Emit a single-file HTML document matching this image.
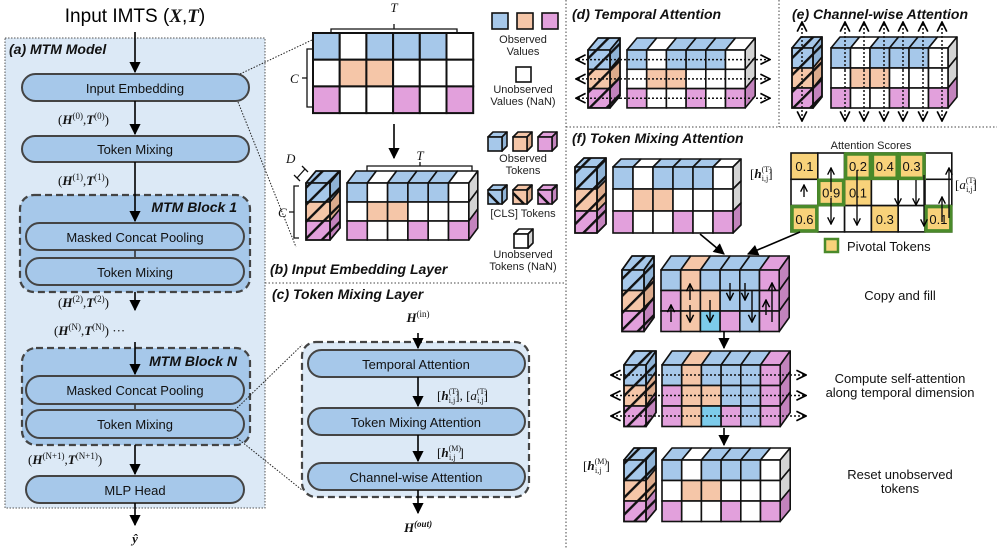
<!DOCTYPE html>
<html><head><meta charset="utf-8">
<style>
html,body{margin:0;padding:0;background:#fff;}
svg{display:block;font-family:"Liberation Sans","DejaVu Sans",sans-serif;}
.t{font-size:13px;fill:#111;}
.ti{font-size:14px;font-style:italic;font-weight:bold;fill:#111;}
.m{font-family:"Liberation Serif","DejaVu Serif",serif;font-size:13px;fill:#111;}
.mb{font-family:"Liberation Serif","DejaVu Serif",serif;font-size:13px;font-weight:bold;font-style:italic;fill:#111;}
.sm{font-size:11px;fill:#222;}
</style></head><body>
<svg id="s" width="997" height="548" viewBox="0 0 997 548" xmlns="http://www.w3.org/2000/svg">
<defs>
<marker id="ar" viewBox="0 0 10 10" refX="9" refY="5" markerWidth="7" markerHeight="7" orient="auto"><path d="M0,0 L10,5 L0,10 z" fill="#000"/></marker>
<marker id="ao" viewBox="0 0 10 10" refX="9" refY="5" markerWidth="6" markerHeight="6" orient="auto"><path d="M1,1 L9,5 L1,9" fill="none" stroke="#000" stroke-width="1.6"/></marker>
<marker id="ao2" viewBox="0 0 10 10" refX="9" refY="5" markerWidth="8" markerHeight="8" orient="auto"><path d="M1,1 L9,5 L1,9" fill="none" stroke="#000" stroke-width="1.4"/></marker>
<pattern id="hatch" width="12" height="12" patternUnits="userSpaceOnUse" patternTransform="rotate(45)"><rect width="2.4" height="12" fill="#111"/></pattern>
</defs>

<line x1="265" y1="283" x2="565" y2="283" stroke="#444" stroke-dasharray="1.5,2"/>
<line x1="566" y1="0" x2="566" y2="548" stroke="#444" stroke-dasharray="1.5,2"/>
<line x1="566" y1="127" x2="997" y2="127" stroke="#444" stroke-dasharray="1.5,2"/>
<line x1="779" y1="0" x2="779" y2="127" stroke="#444" stroke-dasharray="1.5,2"/>

<text x="135" y="22" text-anchor="middle" style="font-size:19px">Input IMTS (<tspan class="mb" style="font-size:19px">X</tspan>,<tspan class="mb" style="font-size:19px">T</tspan>)</text>
<rect x="5" y="38" width="260" height="470" fill="#dce9f6" stroke="#555" stroke-dasharray="1.5,1.5"/>
<text x="9" y="54" class="ti">(a) MTM Model</text>
<line x1="135" y1="32" x2="135" y2="72" stroke="#000" stroke-width="1.6" marker-end="url(#ar)"/>
<rect x="22" y="74" width="227" height="27" rx="13.5" fill="#a6c8ea" stroke="#444" stroke-width="2"/>
<text x="135" y="93" class="t" text-anchor="middle">Input Embedding</text>
<line x1="135" y1="101" x2="135" y2="134" stroke="#000" stroke-width="1.6" marker-end="url(#ar)"/>
<text x="58" y="124" class="m">(<tspan class="mb">H</tspan><tspan font-size="9" dy="-5">(0)</tspan><tspan dy="5">,</tspan><tspan class="mb">T</tspan><tspan font-size="9" dy="-5">(0)</tspan><tspan dy="5">)</tspan></text>
<rect x="22" y="136" width="227" height="26" rx="13" fill="#a6c8ea" stroke="#444" stroke-width="2"/>
<text x="135" y="154" class="t" text-anchor="middle">Token Mixing</text>
<text x="58" y="185" class="m">(<tspan class="mb">H</tspan><tspan font-size="9" dy="-5">(1)</tspan><tspan dy="5">,</tspan><tspan class="mb">T</tspan><tspan font-size="9" dy="-5">(1)</tspan><tspan dy="5">)</tspan></text>
<rect x="20" y="195" width="230" height="97" rx="14" fill="#a6c8ea" stroke="#444" stroke-width="2.2" stroke-dasharray="7,4"/>
<text x="237" y="212" class="ti" text-anchor="end">MTM Block 1</text>
<line x1="135" y1="162" x2="135" y2="221" stroke="#000" stroke-width="1.6" marker-end="url(#ar)"/>
<rect x="26" y="223" width="218" height="27" rx="13.5" fill="#a6c8ea" stroke="#444" stroke-width="2"/>
<text x="135" y="242" class="t" text-anchor="middle">Masked Concat Pooling</text>
<line x1="135" y1="250" x2="135" y2="258" stroke="#333" stroke-width="1.6"/>
<rect x="26" y="258" width="218" height="27" rx="13.5" fill="#a6c8ea" stroke="#444" stroke-width="2"/>
<text x="135" y="277" class="t" text-anchor="middle">Token Mixing</text>
<line x1="135" y1="292" x2="135" y2="310" stroke="#000" stroke-width="1.6" marker-end="url(#ar)"/>
<text x="58" y="307" class="m">(<tspan class="mb">H</tspan><tspan font-size="9" dy="-5">(2)</tspan><tspan dy="5">,</tspan><tspan class="mb">T</tspan><tspan font-size="9" dy="-5">(2)</tspan><tspan dy="5">)</tspan></text>
<text x="54" y="335" class="m">(<tspan class="mb">H</tspan><tspan font-size="9" dy="-5">(N)</tspan><tspan dy="5">,</tspan><tspan class="mb">T</tspan><tspan font-size="9" dy="-5">(N)</tspan><tspan dy="5">)  ···</tspan></text>
<rect x="22" y="348" width="228" height="97" rx="14" fill="#a6c8ea" stroke="#444" stroke-width="2.2" stroke-dasharray="7,4"/>
<text x="237" y="366" class="ti" text-anchor="end">MTM Block N</text>
<line x1="135" y1="342" x2="135" y2="374" stroke="#000" stroke-width="1.6" marker-end="url(#ar)"/>
<rect x="26" y="376" width="218" height="28" rx="14" fill="#a6c8ea" stroke="#444" stroke-width="2"/>
<text x="135" y="395" class="t" text-anchor="middle">Masked Concat Pooling</text>
<line x1="135" y1="404" x2="135" y2="410" stroke="#333" stroke-width="1.6"/>
<rect x="26" y="410" width="218" height="28" rx="14" fill="#a6c8ea" stroke="#444" stroke-width="2"/>
<text x="135" y="429" class="t" text-anchor="middle">Token Mixing</text>
<line x1="135" y1="445" x2="135" y2="474" stroke="#000" stroke-width="1.6" marker-end="url(#ar)"/>
<text x="28" y="464" class="m">(<tspan class="mb">H</tspan><tspan font-size="9" dy="-5">(N+1)</tspan><tspan dy="5">,</tspan><tspan class="mb">T</tspan><tspan font-size="9" dy="-5">(N+1)</tspan><tspan dy="5">)</tspan></text>
<rect x="26" y="476" width="218" height="27" rx="13.5" fill="#a6c8ea" stroke="#444" stroke-width="2"/>
<text x="135" y="495" class="t" text-anchor="middle">MLP Head</text>
<line x1="135" y1="503" x2="135" y2="525" stroke="#000" stroke-width="1.6" marker-end="url(#ar)"/>
<text x="135" y="543" class="mb" text-anchor="middle">ŷ</text>

<line x1="240" y1="74" x2="312" y2="40" stroke="#222" stroke-dasharray="1.5,1.5"/>
<line x1="238" y1="102" x2="296" y2="247" stroke="#222" stroke-dasharray="1.5,1.5"/>
<line x1="235" y1="410" x2="302" y2="345" stroke="#222" stroke-dasharray="1.5,1.5"/>
<line x1="237" y1="438" x2="302" y2="490" stroke="#222" stroke-dasharray="1.5,1.5"/>

<text x="394" y="12" class="m" font-style="italic" text-anchor="middle">T</text>
<path d="M331,34 V29 H457 V34 M394,29 V24" fill="none" stroke="#111" stroke-width="1.3"/>
<path d="M312,49 H307 V107 H312 M307,78 H302" fill="none" stroke="#111" stroke-width="1.3"/>
<text x="290" y="83" class="m" font-style="italic">C</text>
<g id="g2d"></g>
<line x1="394" y1="124" x2="394" y2="158" stroke="#000" stroke-width="1.6" marker-end="url(#ar)"/>
<text x="420" y="160" class="m" font-style="italic" text-anchor="middle">T</text>
<path d="M367,172 V166 H472 V172 M420,166 V162" fill="none" stroke="#111" stroke-width="1.3"/>
<path d="M299,186 H294 V238 H299 M294,212 H289" fill="none" stroke="#111" stroke-width="1.3"/>
<text x="278" y="217" class="m" font-style="italic">C</text>
<path d="M297,178 L305,169 M294,175 L300,181 M302,166 L308,172" fill="none" stroke="#111" stroke-width="1.3"/>
<text x="286" y="163" class="m" font-style="italic">D</text>
<text x="523" y="43" class="sm" text-anchor="middle">Observed</text>
<text x="523" y="55" class="sm" text-anchor="middle">Values</text>
<rect x="516" y="67" width="15" height="15" fill="#fff" stroke="#111" stroke-width="1.6"/>
<text x="523" y="93" class="sm" text-anchor="middle">Unobserved</text>
<text x="523" y="105" class="sm" text-anchor="middle">Values (NaN)</text>
<text x="523" y="162" class="sm" text-anchor="middle">Observed</text>
<text x="523" y="174" class="sm" text-anchor="middle">Tokens</text>
<text x="523" y="217" class="sm" text-anchor="middle">[CLS] Tokens</text>
<text x="523" y="258" class="sm" text-anchor="middle">Unobserved</text>
<text x="523" y="270" class="sm" text-anchor="middle">Tokens (NaN)</text>
<text x="270" y="274" class="ti">(b) Input Embedding Layer</text>

<text x="272" y="299" class="ti">(c) Token Mixing Layer</text>
<text x="418" y="322" class="mb" text-anchor="middle">H<tspan font-size="9" font-weight="normal" font-style="normal" dy="-5">(in)</tspan></text>
<rect x="302" y="342" width="227" height="155" rx="14" fill="#dce9f6" stroke="#444" stroke-width="2.2" stroke-dasharray="7,4"/>
<line x1="418" y1="333" x2="418" y2="348" stroke="#000" stroke-width="1.6" marker-end="url(#ar)"/>
<rect x="308" y="350" width="217" height="27" rx="13.5" fill="#a6c8ea" stroke="#444" stroke-width="2"/>
<text x="416" y="369" class="t" text-anchor="middle">Temporal Attention</text>
<line x1="418" y1="377" x2="418" y2="406" stroke="#000" stroke-width="1.6" marker-end="url(#ar)"/>
<text x="437" y="400" class="m">[<tspan class="mb">h</tspan><tspan font-size="8" dy="-6">(T)</tspan><tspan font-size="8" dx="-10" dy="9">i,j</tspan><tspan dy="-3">], [</tspan><tspan font-style="italic">a</tspan><tspan font-size="8" dy="-6">(T)</tspan><tspan font-size="8" dx="-10" dy="9">i,j</tspan><tspan dy="-3">]</tspan></text>
<rect x="308" y="408" width="217" height="27" rx="13.5" fill="#a6c8ea" stroke="#444" stroke-width="2"/>
<text x="416" y="427" class="t" text-anchor="middle">Token Mixing Attention</text>
<line x1="418" y1="435" x2="418" y2="461" stroke="#000" stroke-width="1.6" marker-end="url(#ar)"/>
<text x="437" y="457" class="m">[<tspan class="mb">h</tspan><tspan font-size="8" dy="-6">(M)</tspan><tspan font-size="8" dx="-12" dy="9">i,j</tspan><tspan dy="-3" dx="4">]</tspan></text>
<rect x="308" y="463" width="217" height="27" rx="13.5" fill="#a6c8ea" stroke="#444" stroke-width="2"/>
<text x="416" y="482" class="t" text-anchor="middle">Channel-wise Attention</text>
<line x1="418" y1="490" x2="418" y2="513" stroke="#000" stroke-width="1.6" marker-end="url(#ar)"/>
<text x="418" y="532" class="mb" text-anchor="middle">H<tspan font-size="9" dy="-5">(out)</tspan></text>

<text x="572" y="19" class="ti">(d) Temporal Attention</text>
<text x="792" y="19" class="ti">(e) Channel-wise Attention</text>
<text x="572" y="143" class="ti">(f) Token Mixing Attention</text>

<g id="cubes"></g>

<text x="750" y="178" class="m">[<tspan class="mb">h</tspan><tspan font-size="8" dy="-6">(T)</tspan><tspan font-size="8" dx="-10" dy="9">i,j</tspan><tspan dy="-3">]</tspan></text>
<text x="955" y="189" class="m">[<tspan font-style="italic">a</tspan><tspan font-size="8" dy="-6">(T)</tspan><tspan font-size="8" dx="-10" dy="9">i,j</tspan><tspan dy="-3">]</tspan></text>
<text x="871" y="149" class="sm" text-anchor="middle">Attention Scores</text>
<g id="att"></g>
<rect x="825" y="239" width="13" height="13" fill="#f8d27a" stroke="#4a8a2a" stroke-width="2.5"/>
<text x="847" y="251" class="t">Pivotal Tokens</text>
<line x1="700" y1="234" x2="724" y2="254" stroke="#000" stroke-width="1.6" marker-end="url(#ar)"/>
<line x1="800" y1="232" x2="748" y2="254" stroke="#000" stroke-width="1.6" marker-end="url(#ar)"/>
<text x="900" y="300" class="t" text-anchor="middle">Copy and fill</text>
<line x1="724" y1="331" x2="724" y2="348" stroke="#000" stroke-width="1.6" marker-end="url(#ar)"/>
<text x="900" y="383" class="t" text-anchor="middle">Compute self-attention</text>
<text x="900" y="397" class="t" text-anchor="middle">along temporal dimension</text>
<line x1="724" y1="428" x2="724" y2="445" stroke="#000" stroke-width="1.6" marker-end="url(#ar)"/>
<text x="900" y="479" class="t" text-anchor="middle">Reset unobserved</text>
<text x="900" y="493" class="t" text-anchor="middle">tokens</text>
<text x="583" y="470" class="m">[<tspan class="mb">h</tspan><tspan font-size="8" dy="-6">(M)</tspan><tspan font-size="8" dx="-12" dy="9">i,j</tspan><tspan dy="-3" dx="4">]</tspan></text>
</svg>
<script>
var NS="http://www.w3.org/2000/svg";
var C={B:"#a6c8ea",O:"#f5c6a8",P:"#e2a0dc",W:"#ffffff",Y:"#7ccbea"};
function dk(c){var m={"#a6c8ea":"#8fb3d6","#f5c6a8":"#dcab8c","#e2a0dc":"#c383bd","#ffffff":"#d4d4d4","#7ccbea":"#62b0cf"};return m[c]||c;}
function el(p,t,a){var e=document.createElementNS(NS,t);for(var k in a)e.setAttribute(k,a[k]);p.appendChild(e);return e;}
var G=document.getElementById("cubes");
function poly(pts,fill,sw){return el(G,"polygon",{points:pts.map(function(p){return p.join(",")}).join(" "),fill:fill,stroke:"#111","stroke-width":sw||1.6,"stroke-linejoin":"round"});}
function grid(x,y,cw,ch,rows,dx,dy){
  var n=rows[0].length,m=rows.length;
  for(var j=0;j<n;j++){var c=C[rows[0][j]];
    poly([[x+j*cw,y],[x+j*cw+dx,y-dy],[x+(j+1)*cw+dx,y-dy],[x+(j+1)*cw,y]],c);}
  for(var i=0;i<m;i++){var c=C[rows[i][n-1]];
    poly([[x+n*cw,y+i*ch],[x+n*cw+dx,y+i*ch-dy],[x+n*cw+dx,y+(i+1)*ch-dy],[x+n*cw,y+(i+1)*ch]],dk(c));}
  for(var i=0;i<m;i++)for(var j=0;j<n;j++)
    el(G,"rect",{x:x+j*cw,y:y+i*ch,width:cw,height:ch,fill:C[rows[i][j]],stroke:"#111","stroke-width":1.6});
}
function cls(x,y,cw,ch,dx,dy){
  var cs=["B","O","P"];
  poly([[x,y],[x+dx,y-dy],[x+cw+dx,y-dy],[x+cw,y]],C.B);
  for(var i=0;i<3;i++){poly([[x+cw,y+i*ch],[x+cw+dx,y+i*ch-dy],[x+cw+dx,y+(i+1)*ch-dy],[x+cw,y+(i+1)*ch]],dk(C[cs[i]]));}
  for(var i=0;i<3;i++)el(G,"rect",{x:x,y:y+i*ch,width:cw,height:ch,fill:C[cs[i]],stroke:"#111","stroke-width":1.6});
  el(G,"polygon",{points:[[x,y],[x+dx,y-dy],[x+cw+dx,y-dy],[x+cw+dx,y+3*ch-dy],[x+cw,y+3*ch],[x,y+3*ch]].map(function(p){return p.join(",")}).join(" "),fill:"url(#hatch)",stroke:"#111","stroke-width":1.6});
  el(G,"line",{x1:x+cw,y1:y,x2:x+cw,y2:y+3*ch,stroke:"#111","stroke-width":1.6});
  el(G,"line",{x1:x+cw,y1:y,x2:x+cw+dx,y2:y-dy,stroke:"#111","stroke-width":1.6});
}
var base=["BWBBBW","WOOWWW","PWWPWP"];
var filled=["BOBBBP","POOBBP","POYPBP"];
(function(){var g=document.getElementById("g2d");var x=313,y=33,cw=26.7,ch=26.7;
 for(var i=0;i<3;i++)for(var j=0;j<6;j++)el(g,"rect",{x:x+j*cw,y:y+i*ch,width:cw,height:ch,fill:C[base[i][j]],stroke:"#111","stroke-width":2});
 var lc=["B","O","P"];for(var k=0;k<3;k++)el(g,"rect",{x:492+k*25,y:13,width:16,height:16,fill:C[lc[k]],stroke:"#111","stroke-width":1.6});
})();
grid(347,183,20.3,19,base,9,12); cls(306,183,24,19,10,12);
function cube(x,y,s,c,h){poly([[x,y],[x+5,y-5],[x+s+5,y-5],[x+s,y]],C[c]);poly([[x+s,y],[x+s+5,y-5],[x+s+5,y+s-5],[x+s,y+s]],dk(C[c]));
 el(G,"rect",{x:x,y:y,width:s,height:s,fill:C[c],stroke:"#111","stroke-width":1.6});
 if(h){el(G,"line",{x1:x,y1:y+3,x2:x+s-3,y2:y+s,stroke:"#111","stroke-width":2.5});el(G,"line",{x1:x+s,y1:y,x2:x+s+5,y2:y-5,stroke:"#111","stroke-width":2.5});}}
cube(488,137,14,"B");cube(513,137,14,"O");cube(538,137,14,"P");
cube(488,190,14,"B",1);cube(513,190,14,"O",1);cube(538,190,14,"P",1);
cube(514,234,14,"W");
grid(627,50,19.7,19.3,base,10,12); cls(588,50,22,19.3,10,12);
for(var i=0;i<3;i++){var yy=50+19.3*i+9.6;el(G,"line",{x1:620,y1:yy,x2:576,y2:yy,stroke:"#111","stroke-width":1.5,"stroke-dasharray":"2,2","marker-end":"url(#ao2)"});
 el(G,"line",{x1:620,y1:yy,x2:770,y2:yy,stroke:"#111","stroke-width":1.5,"stroke-dasharray":"2,2","marker-end":"url(#ao2)"});}
grid(831,48,19.5,20,base,9,11); cls(792,48,21,20,9,11);
var ex=[802,845,864,884,903,923,942];
for(var k=0;k<ex.length;k++){el(G,"line",{x1:ex[k],y1:70,x2:ex[k],y2:22,stroke:"#111","stroke-width":1.5,"stroke-dasharray":"2,2","marker-end":"url(#ao2)"});
 el(G,"line",{x1:ex[k],y1:70,x2:ex[k],y2:121,stroke:"#111","stroke-width":1.5,"stroke-dasharray":"2,2","marker-end":"url(#ao2)"});}
grid(613,167,20,22,base,8,8); cls(575,167,22,22,9,9);
grid(661,270,19.7,20.5,filled,10,14); cls(622,270,22,20.5,10,14);
function ar(x,y1,y2){el(G,"line",{x1:x,y1:y1,x2:x,y2:y2,stroke:"#111","stroke-width":1.5,"marker-end":"url(#ao)"});}
ar(671,322,305);ar(690,300,284);ar(690,305,322);ar(710,300,322);ar(730,283,300);ar(745,283,300);ar(752,290,322);ar(766,315,300);ar(772,322,283);
grid(662,365,19.7,20.5,filled,10,14); cls(624,365,22,20.5,10,14);
for(var i=0;i<3;i++){var yy=365+20.5*i+10;el(G,"line",{x1:650,y1:yy,x2:611,y2:yy,stroke:"#111","stroke-width":1.5,"stroke-dasharray":"2,2","marker-end":"url(#ao2)"});
 el(G,"line",{x1:650,y1:yy,x2:806,y2:yy,stroke:"#111","stroke-width":1.5,"stroke-dasharray":"2,2","marker-end":"url(#ao2)"});}
grid(662,460,19.7,20.5,base,10,12); cls(624,460,22,20.5,10,12);
(function(){var g=document.getElementById("att");var x=791,y=153,cw=26.8,ch=26.3;
 var v={"0,0":"0.1","0,2":"0.2","0,3":"0.4","0,4":"0.3","1,1":"0.9","1,2":"0.1","2,0":"0.6","2,3":"0.3","2,5":"0.1"};
 var piv={"0,2":1,"0,3":1,"0,4":1,"1,1":1,"2,0":1,"2,5":1};
 for(var i=0;i<3;i++)for(var j=0;j<6;j++){var k=i+","+j;el(g,"rect",{x:x+j*cw,y:y+i*ch,width:cw,height:ch,fill:v[k]?"#f8d27a":"#fff",stroke:"#111","stroke-width":1.6});}
 for(var k in piv){var p=k.split(",");el(g,"rect",{x:x+p[1]*cw+1,y:y+p[0]*ch+1,width:cw-2,height:ch-2,fill:"none",stroke:"#4a8a2a","stroke-width":3.5});}
 for(var k in v){var p=k.split(",");var t=el(g,"text",{x:x+p[1]*cw+cw/2,y:y+p[0]*ch+ch/2+5,"text-anchor":"middle","class":"t"});t.textContent=v[k];}
 function a(xx,y1,y2){el(g,"line",{x1:xx,y1:y1,x2:xx,y2:y2,stroke:"#111","stroke-width":1.4,"marker-end":"url(#ao)"});}
 a(804,197,185);a(831,192,168);a(831,198,224);a(857,170,225);a(898,180,205);a(916,180,205);a(924,175,226);a(942,222,197);a(949,218,168);
})();
</script>
</body></html>
